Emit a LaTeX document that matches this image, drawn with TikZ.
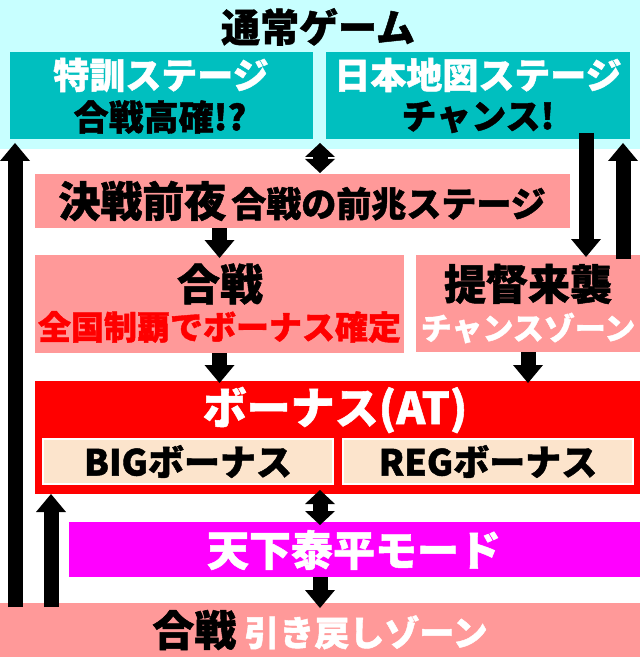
\documentclass[tikz,border=0pt]{standalone}
\usepackage{fontspec}
\setmainfont{Noto Sans CJK JP}[BoldFeatures={FakeBold=1.2}]
\usetikzlibrary{arrows.meta}
\definecolor{cyanbg}{HTML}{C8FFFF}
\definecolor{tealbox}{HTML}{00BFBF}
\definecolor{pinkbox}{HTML}{FF9999}
\definecolor{beigebox}{HTML}{FCE4CC}
\definecolor{redbox}{HTML}{FF0000}
\definecolor{magbox}{HTML}{FF00FF}
\newcommand{\fsz}[1]{\fontsize{#1}{#1}\selectfont\bfseries}
\tikzset{
  box/.style={anchor=north west, inner sep=0pt, outer sep=0pt, draw=none},
  txt/.style={inner sep=0pt, outer sep=0pt, anchor=center},
  arr/.style={line width=15pt, -{Triangle[width=30pt,length=18pt,line width=0pt]}},
  darr/.style={line width=15pt, {Triangle[width=30pt,length=14pt,line width=0pt]}-{Triangle[width=30pt,length=14pt,line width=0pt]}}
}
\begin{document}
\begin{tikzpicture}[x=1pt,y=-1pt]
\useasboundingbox (0,0) rectangle (640,663);
\fill[white] (0,0) rectangle (640,663);
% background of the normal game area
\node[box, fill=cyanbg, minimum width=640pt, minimum height=149pt] (bg) at (0,0) {};
\node[txt, font=\fsz{39}] (title) at (318,27) {通常ゲーム};
% stage boxes
\node[box, fill=tealbox, minimum width=303pt, minimum height=87pt] (tokkun) at (10,52) {};
\node[box, fill=tealbox, minimum width=304pt, minimum height=87pt] (nihon) at (326,52) {};
\node[txt, font=\fsz{36}, text=white] (t1) at (161,75) {特訓ステージ};
\node[txt, font=\fsz{35}] (t2) at (160,117) {合戦高確!?};
\node[txt, font=\fsz{36}, text=white] (t3) at (478,75) {日本地図ステージ};
\node[txt, font=\fsz{35}] (t4) at (478,117) {チャンス!};
% zensen
\node[box, fill=pinkbox, minimum width=535pt, minimum height=54pt] (zen) at (35,174) {};
\node[txt] (t5) at (302,201) {{\fsz{42}決戦前夜}\hspace{5pt}{\fsz{35}合戦の前兆ステージ}};
% gassen / teitoku
\node[box, fill=pinkbox, minimum width=369pt, minimum height=98pt] (gassen) at (35,255) {};
\node[box, fill=pinkbox, minimum width=224pt, minimum height=97pt] (teitoku) at (416,255) {};
\node[txt, font=\fsz{43}] (t6) at (220,284) {合戦};
\node[txt, font=\fsz{33}, text=red] (t7) at (219.5,327) {全国制覇でボーナス確定};
\node[txt, font=\fsz{42}] (t8) at (528,284) {提督来襲};
\node[txt, font=\fsz{31}, text=white] (t9) at (528,328) {チャンスゾーン};
% bonus
\node[box, fill=redbox, minimum width=605pt, minimum height=113pt] (bonus) at (35,381) {};
\node[txt, font=\fsz{44}, text=white] (t10) at (335,410) {ボーナス(AT)};
\node[box, fill=beigebox, draw=white, line width=2.5pt, minimum width=290pt, minimum height=45pt] (big) at (43,439) {};
\node[box, fill=beigebox, draw=white, line width=2.5pt, minimum width=290pt, minimum height=45pt] (reg) at (343,439) {};
\node[txt, font=\fsz{36}] (t11) at (big.center) {BIGボーナス};
\node[txt, font=\fsz{36}] (t12) at (reg.center) {REGボーナス};
% tenka
\node[box, fill=magbox, minimum width=571pt, minimum height=55pt] (tenka) at (69,522) {};
\node[txt, font=\fsz{42}, text=white] (t13) at (354,550) {天下泰平モード};
% bottom
\node[box, fill=pinkbox, minimum width=640pt, minimum height=54pt] (bottom) at (0,603) {};
\node[txt] (t14) at (320,630) {{\fsz{42}合戦}\hspace{8pt}{\fsz{35}\color{white}引き戻しゾーン}};
% connectors
\coordinate (d1a) at (320,143);
\coordinate (d1b) at (320,173);
\draw[darr] (d1a) -- (d1b);
\draw[arr] (zen.south -| gassen.north) -- ([yshift=-3pt]gassen.north);
\coordinate (n1) at (586,133);
\coordinate (n2) at (586,257);
\draw[arr] (n1) -- (n2);
\coordinate (u1a) at (623,259);
\coordinate (u1b) at (623,143);
\draw[arr] (u1a) -- (u1b);
\draw[arr] (gassen.south) -- ([yshift=-2pt]gassen.south |- bonus.north);
\draw[arr] (teitoku.south) -- ([yshift=-2pt]teitoku.south |- bonus.north);
\coordinate (d2a) at (320,490);
\coordinate (d2b) at (320,525);
\draw[darr] (d2a) -- (d2b);
\coordinate (d3b) at (320,608);
\draw[arr] (tenka.south -| d3b) -- (d3b);
\coordinate (l1a) at (15,607);
\coordinate (l1b) at (15,143);
\draw[arr] (l1a) -- (l1b);
\coordinate (l2a) at (51,607);
\draw[arr] (l2a) -- (l2a |- bonus.south);
\end{tikzpicture}
\end{document}
